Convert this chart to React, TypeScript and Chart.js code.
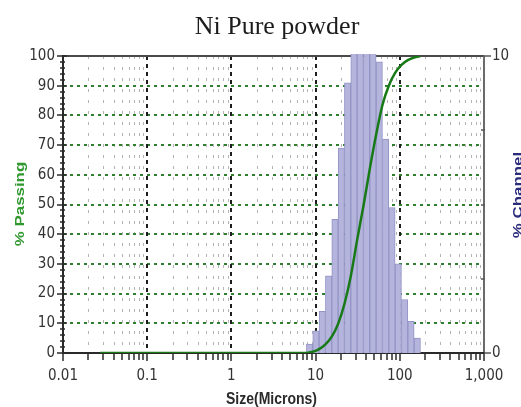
import React, { useEffect, useRef } from 'react';
import { Chart, registerables } from 'chart.js';

Chart.register(...registerables);

// ---- Text ----
const CHART_TITLE = 'Ni Pure powder';
const X_TITLE = 'Size(Microns)';
const Y_LEFT_TITLE = '% Passing';
const Y_RIGHT_TITLE = '% Channel';

// ---- Data ----
// channel boundaries (microns)
const channelEdges = [7.778, 9.25, 11.0, 13.08, 15.56, 18.5, 22.0, 26.16, 31.11, 37.0, 44.0, 52.33, 62.23, 74.0, 88.0, 104.7, 124.5, 148.0, 176.0];
// % in each channel (right axis)
const channelPercent = [0.3, 0.75, 1.4, 2.6, 4.5, 6.9, 9.1, 11.2, 12.0, 11.8, 11.0, 9.8, 7.2, 4.9, 3.0, 1.8, 1.07, 0.5];
// cumulative % passing curve (left axis)
const passingSizes = [0.0275, 7.778, 9.25, 11.0, 13.08, 15.56, 18.5, 22.0, 26.16, 31.11, 37.0, 44.0, 52.33, 62.23, 74.0, 88.0, 104.7, 124.5, 148.0, 176.0];
const passingPercent = [0, 0, 0.4, 1.3, 2.9, 5.5, 9.8, 16.5, 25.8, 38.0, 49.5, 62.0, 73.5, 83.5, 90.0, 94.3, 97.0, 98.6, 99.5, 100];

// ---- Tick labels ----
const xTickValues = [0.01, 0.1, 1, 10, 100, 1000];
const xTickLabels = ['0.01', '0.1', '1', '10', '100', '1,000'];
const passingTicks = [0, 10, 20, 30, 40, 50, 60, 70, 80, 90, 100];
const channelTicks = [0, 10];
const channelMinorTicks = [2.5, 5, 7.5];

const TICK_FONT = "'Liberation Sans Narrow', 'Arial Narrow', 'DejaVu Sans Condensed', sans-serif";
const BOLD_FONT = "'Liberation Sans', Arial, sans-serif";

const decorPlugin = {
  id: 'decor',
  beforeDatasetsDraw(chart: any) {
    const { ctx, chartArea: a, scales } = chart;
    const x = scales.x;
    const y = scales.y;
    const y2 = scales.y2;
    const line = (x1: number, y1: number, x2: number, y2p: number) => {
      ctx.beginPath();
      ctx.moveTo(x1, y1);
      ctx.lineTo(x2, y2p);
      ctx.stroke();
    };
    ctx.save();
    // minor vertical grid
    ctx.lineWidth = 1;
    ctx.strokeStyle = '#b4b4b4';
    ctx.setLineDash([3, 8]);
    for (let d = 0; d < xTickValues.length - 1; d++) {
      for (let k = 2; k <= 9; k++) {
        const px = Math.round(x.getPixelForValue(xTickValues[d] * k)) + 0.5;
        line(px, a.top, px, a.bottom);
      }
    }
    // horizontal green dashed grid
    ctx.lineWidth = 2;
    ctx.strokeStyle = '#2f7f2f';
    ctx.setLineDash([3, 4]);
    passingTicks.slice(1, -1).forEach((v) => {
      const py = Math.round(y.getPixelForValue(v));
      line(a.left, py, a.right, py);
    });
    // decade vertical grid
    ctx.strokeStyle = '#1e1e1e';
    ctx.setLineDash([4, 4]);
    xTickValues.slice(1, -1).forEach((v) => {
      const px = Math.round(x.getPixelForValue(v));
      line(px, a.top, px, a.bottom);
    });
    ctx.setLineDash([]);
    // frame
    ctx.strokeStyle = '#4a4a4a';
    line(a.left, a.top, a.right, a.top);
    ctx.strokeStyle = '#6a6a6a';
    line(a.right, a.top, a.right, a.bottom);
    ctx.strokeStyle = '#2a2a2a';
    line(a.left, a.top - 1, a.left, a.bottom + 1);
    line(a.left - 1, a.bottom, a.right + 1, a.bottom);
    // bottom ticks
    ctx.lineWidth = 1.5;
    for (let d = 0; d < xTickValues.length; d++) {
      const px0 = Math.round(x.getPixelForValue(xTickValues[d]));
      line(px0, a.bottom, px0, a.bottom + 8);
      if (d < xTickValues.length - 1) {
        for (let k = 2; k <= 9; k++) {
          const px = Math.round(x.getPixelForValue(xTickValues[d] * k));
          line(px, a.bottom, px, a.bottom + 7);
        }
      }
    }
    // left ticks
    for (let v = 0; v <= 100; v += 2) {
      const py = Math.round(y.getPixelForValue(v));
      if (v % 10 === 0) line(a.left - 6, py, a.left + 4, py);
      else line(a.left - 3, py, a.left + 2, py);
    }
    // right ticks
    ctx.strokeStyle = '#555';
    channelTicks.forEach((v) => {
      const py = Math.round(y2.getPixelForValue(v));
      line(a.right, py, a.right + 7, py);
    });
    channelMinorTicks.forEach((v) => {
      const py = Math.round(y2.getPixelForValue(v));
      line(a.right - 3, py, a.right + 1, py);
    });
    ctx.restore();
  },
  afterDraw(chart: any) {
    const { ctx } = chart;
    ctx.save();
    // chart title
    ctx.fillStyle = '#1c1c1c';
    ctx.font = "26px 'Liberation Serif', 'Times New Roman', serif";
    ctx.textAlign = 'center';
    ctx.textBaseline = 'alphabetic';
    ctx.fillText(CHART_TITLE, 277, 34);
    // x title
    ctx.save();
    ctx.translate(271.5, 404);
    ctx.scale(1, 1.2);
    ctx.fillStyle = '#2a2a2a';
    ctx.font = `bold 14px ${BOLD_FONT}`;
    ctx.fillText(X_TITLE, 0, 0);
    ctx.restore();
    // left title
    ctx.save();
    ctx.translate(20.5, 204);
    ctx.rotate(-Math.PI / 2);
    ctx.scale(1.3, 1);
    ctx.fillStyle = '#2f982f';
    ctx.font = `bold 13px ${BOLD_FONT}`;
    ctx.textBaseline = 'middle';
    ctx.fillText(Y_LEFT_TITLE, 0, 0);
    ctx.restore();
    // right title
    ctx.save();
    ctx.translate(518, 195);
    ctx.rotate(-Math.PI / 2);
    ctx.scale(1.3, 1);
    ctx.fillStyle = '#2b2b7c';
    ctx.font = `bold 13px ${BOLD_FONT}`;
    ctx.textBaseline = 'middle';
    ctx.fillText(Y_RIGHT_TITLE, 0, 0);
    ctx.restore();
    ctx.restore();
  },
};

export default function App() {
  const ref = useRef<HTMLCanvasElement>(null);
  useEffect(() => {
    if (!ref.current) return;
    const barData = channelPercent.map((v, i) => ({
      x: Math.sqrt(channelEdges[i] * channelEdges[i + 1]),
      y: v,
    }));
    const lineData = passingSizes.map((s, i) => ({ x: s, y: passingPercent[i] }));
    const tickFont = { family: TICK_FONT, size: 15 };
    const chart = new Chart(ref.current, {
      type: 'bar',
      data: {
        datasets: [
          {
            type: 'line',
            label: Y_LEFT_TITLE,
            data: lineData,
            yAxisID: 'y',
            xAxisID: 'x',
            borderColor: '#177a17',
            borderWidth: 2.5,
            pointRadius: 0,
            cubicInterpolationMode: 'monotone',
            fill: false,
            order: 1,
          } as any,
          {
            type: 'bar',
            label: Y_RIGHT_TITLE,
            data: barData,
            yAxisID: 'y2',
            xAxisID: 'x',
            backgroundColor: '#b4b4dc',
            borderColor: '#9494c6',
            borderWidth: 1,
            barPercentage: 1,
            categoryPercentage: 1,
            clip: { left: 0, top: 2, right: 0, bottom: 0 },
            order: 2,
          } as any,
        ],
      },
      options: {
        responsive: false,
        maintainAspectRatio: false,
        animation: false,
        devicePixelRatio: 1,
        events: [],
        layout: { padding: { top: 56, left: 0, right: 0, bottom: 0 } },
        plugins: {
          legend: { display: false },
          title: { display: false },
          tooltip: { enabled: false },
        },
        scales: {
          x: {
            type: 'logarithmic',
            position: 'bottom',
            min: 0.01,
            max: 1000,
            offset: false,
            afterBuildTicks: (s: any) => {
              s.ticks = xTickValues.map((v) => ({ value: v }));
            },
            afterFit: (s: any) => {
              s.height = 54;
            },
            grid: { display: false, drawTicks: false, offset: false },
            border: { display: false },
            ticks: {
              autoSkip: false,
              maxRotation: 0,
              minRotation: 0,
              padding: 14,
              color: '#333',
              font: tickFont,
              callback: (v: any) => {
                const i = xTickValues.indexOf(Number(v));
                return i >= 0 ? xTickLabels[i] : '';
              },
            },
          },
          y: {
            type: 'linear',
            position: 'left',
            min: 0,
            max: 100,
            afterBuildTicks: (s: any) => {
              s.ticks = passingTicks.map((v) => ({ value: v }));
            },
            afterFit: (s: any) => {
              s.width = 63;
            },
            grid: { display: false, drawTicks: false },
            border: { display: false },
            ticks: { padding: 8, color: '#333', font: tickFont },
          },
          y2: {
            type: 'linear',
            position: 'right',
            min: 0,
            max: 10,
            afterBuildTicks: (s: any) => {
              s.ticks = channelTicks.map((v) => ({ value: v }));
            },
            afterFit: (s: any) => {
              s.width = 37;
            },
            grid: { display: false, drawTicks: false },
            border: { display: false },
            ticks: { padding: 8, color: '#333', font: tickFont },
          },
        },
      } as any,
      plugins: [decorPlugin],
    });
    return () => chart.destroy();
  }, []);
  return (
    <div style={{ position: 'fixed', left: 0, top: 0, width: 521, height: 407, background: '#fff' }}>
      <canvas ref={ref} width={521} height={407} style={{ display: 'block' }} />
    </div>
  );
}
